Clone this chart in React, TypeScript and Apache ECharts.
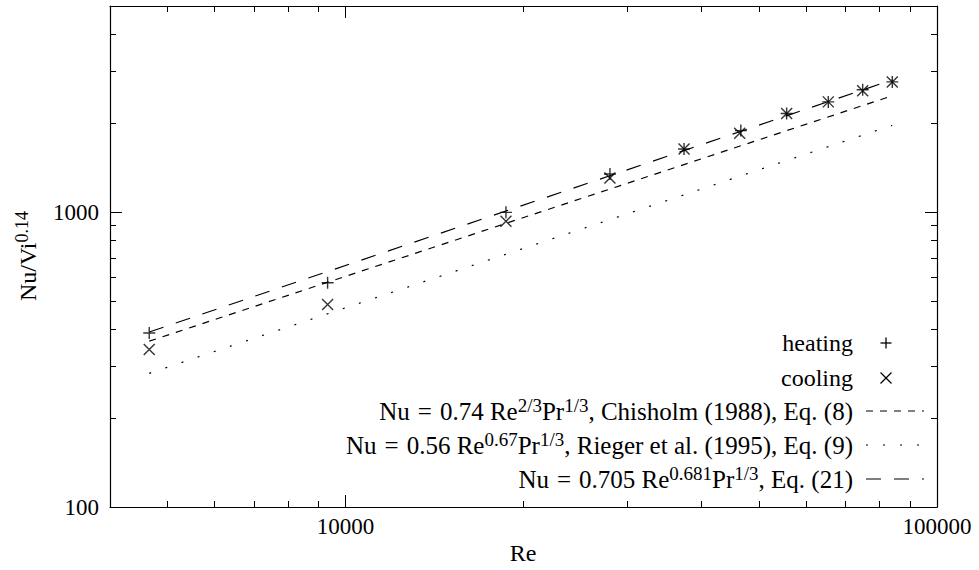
import React, { useEffect, useRef } from 'react';
import * as echarts from 'echarts';

// ---- data ----
const heatingRe = [4660, 9330, 18680, 28000, 37360, 46600, 55700, 65500, 74880, 84030];
const heatingNu = [389, 576, 998, 1347, 1636, 1890, 2160, 2365, 2600, 2764];
const coolingRe = [4660, 9330, 18680, 28000, 37360, 46400, 55700, 65500, 74880, 84030];
const coolingNu = [342, 486, 931, 1306, 1636, 1850, 2160, 2365, 2580, 2764];

const lineRe = [4660, 84000];
const chisholmNu = [365, 2480];
const riegerNu = [284, 1969];
const eq21Nu = [392, 2808];

const xMajorTicks = [10000, 100000];
const xMinorTicks = [5000, 6000, 7000, 8000, 9000, 20000, 30000, 40000, 50000, 60000, 70000, 80000, 90000];
const yMajorTicks = [100, 1000];
const yMinorTicks = [200, 300, 400, 500, 600, 700, 800, 900, 2000, 3000, 4000];

const legendTexts = [
  'heating',
  'cooling',
  '{n|Nu}{e|=}{n|0.74 Re}{s|2/3}{n|Pr}{s|1/3}{n|, Chisholm (1988), Eq. (8)}',
  '{n|Nu}{e|=}{n|0.56 Re}{s|0.67}{n|Pr}{s|1/3}{n|, Rieger et al. (1995), Eq. (9)}',
  '{n|Nu}{e|=}{n|0.705 Re}{s|0.681}{n|Pr}{s|1/3}{n|, Eq. (21)}',
];
const xTitle = 'Re';
const yTitle = '{n|Nu/Vi}{s|0.14}';

const FONT = 'Liberation Serif';
const FS_TICK = 23;
const FS = 24;
const SUP = 18;
const rich = {
  n: { fontSize: FS, fontFamily: FONT, fill: '#000' },
  s: { fontSize: SUP, fontFamily: FONT, fill: '#000', padding: [0, 0, 12, 0] },
};
const richF = {
  n: { fontSize: 25, fontFamily: FONT, fill: '#000' },
  e: { fontSize: 25, fontFamily: FONT, fill: '#000', padding: [0, 8, 0, 8] },
  s: { fontSize: 19, fontFamily: FONT, fill: '#000', padding: [0, 0, 12, 0] },
};

const X_MIN = 4000, X_MAX = 100000, Y_MIN = 100, Y_MAX = 5000;

function xAxisDef(position: string, ticks: number[], len: number, showLine: boolean, labels: boolean) {
  return {
    type: 'log', logBase: 10, min: X_MIN, max: X_MAX, position, gridIndex: 0,
    axisLine: { show: showLine, onZero: false, lineStyle: { color: '#000', width: 1.2 } },
    axisTick: { show: true, inside: true, length: len, customValues: ticks, lineStyle: { color: '#000', width: 1 } },
    axisLabel: labels
      ? { show: true, customValues: xMajorTicks, margin: 8, fontSize: FS_TICK, fontFamily: FONT, color: '#000',
          formatter: (v: number) => String(Math.round(v)) }
      : { show: false },
    splitLine: { show: false },
    minorTick: { show: false },
  };
}
function yAxisDef(position: string, ticks: number[], len: number, showLine: boolean, labels: boolean) {
  return {
    type: 'log', logBase: 10, min: Y_MIN, max: Y_MAX, position, gridIndex: 0,
    axisLine: { show: showLine, onZero: false, lineStyle: { color: '#000', width: 1.2 } },
    axisTick: { show: true, inside: true, length: len, customValues: ticks, lineStyle: { color: '#000', width: 1 } },
    axisLabel: labels
      ? { show: true, customValues: yMajorTicks, margin: 11, fontSize: FS_TICK, fontFamily: FONT, color: '#000',
          formatter: (v: number) => String(Math.round(v)) }
      : { show: false },
    splitLine: { show: false },
    minorTick: { show: false },
  };
}

const LEG_TEXT_X = 853;
const LEG_Y = [343, 378, 411, 445, 479];
const SAMPLE_X0 = 866, SAMPLE_X1 = 924;
const MARK_X = 886;

export default function App() {
  const ref = useRef<HTMLDivElement>(null);
  useEffect(() => {
    if (!ref.current) return;
    const chart = echarts.init(ref.current, undefined, { renderer: 'svg' });
    const zip = (a: number[], b: number[]) => a.map((v, i) => [v, b[i]]);
    const lineStyleBase = { color: '#000', width: 1.2 };

    const graphic: any[] = [
      { type: 'text', x: 523, y: 553, style: { text: xTitle, fontSize: FS, fontFamily: FONT, fill: '#000', align: 'center', verticalAlign: 'middle' } },
      { type: 'text', x: 28, y: 256, rotation: Math.PI / 2,
        style: { text: yTitle, rich, align: 'center', verticalAlign: 'middle' } },
    ];
    legendTexts.forEach((t, i) => {
      graphic.push({
        type: 'text', x: LEG_TEXT_X, y: LEG_Y[i],
        style: i < 2
          ? { text: t, fontSize: FS, fontFamily: FONT, fill: '#000', align: 'right', verticalAlign: 'middle' }
          : { text: t, rich: richF, align: 'right', verticalAlign: 'middle' },
      });
    });
    const s = 5.5;
    const ms = { stroke: '#000', lineWidth: 1.3 };
    graphic.push({ type: 'line', shape: { x1: MARK_X - s, y1: LEG_Y[0], x2: MARK_X + s, y2: LEG_Y[0] }, style: ms });
    graphic.push({ type: 'line', shape: { x1: MARK_X, y1: LEG_Y[0] - s, x2: MARK_X, y2: LEG_Y[0] + s }, style: ms });
    graphic.push({ type: 'line', shape: { x1: MARK_X - s, y1: LEG_Y[1] - s, x2: MARK_X + s, y2: LEG_Y[1] + s }, style: ms });
    graphic.push({ type: 'line', shape: { x1: MARK_X - s, y1: LEG_Y[1] + s, x2: MARK_X + s, y2: LEG_Y[1] - s }, style: ms });
    const dashes = [[7, 7], [2, 15], [15, 13]];
    dashes.forEach((d, i) => {
      graphic.push({ type: 'line', shape: { x1: SAMPLE_X0, y1: LEG_Y[i + 2], x2: SAMPLE_X1, y2: LEG_Y[i + 2] },
        style: { stroke: '#000', lineWidth: 1.2, lineDash: d } });
    });

    chart.setOption({
      animation: false,
      backgroundColor: '#fff',
      grid: { left: 110, right: 42, top: 6, bottom: 63, containLabel: false },
      xAxis: [
        xAxisDef('bottom', xMajorTicks, 12, true, true),
        xAxisDef('bottom', xMinorTicks, 6, false, false),
        xAxisDef('top', xMajorTicks, 12, true, false),
        xAxisDef('top', xMinorTicks, 6, false, false),
      ],
      yAxis: [
        yAxisDef('left', yMajorTicks, 12, true, true),
        yAxisDef('left', yMinorTicks, 6, false, false),
        yAxisDef('right', yMajorTicks, 12, true, false),
        yAxisDef('right', yMinorTicks, 6, false, false),
      ],
      series: [
        { type: 'line', name: 'Chisholm', data: zip(lineRe, chisholmNu), showSymbol: false, symbol: 'none',
          lineStyle: { ...lineStyleBase, type: dashes[0] }, xAxisIndex: 0, yAxisIndex: 0 },
        { type: 'line', name: 'Rieger', data: zip(lineRe, riegerNu), showSymbol: false, symbol: 'none',
          lineStyle: { ...lineStyleBase, type: dashes[1] }, xAxisIndex: 0, yAxisIndex: 0 },
        { type: 'line', name: 'Eq21', data: zip(lineRe, eq21Nu), showSymbol: false, symbol: 'none',
          lineStyle: { ...lineStyleBase, type: dashes[2] }, xAxisIndex: 0, yAxisIndex: 0 },
        { type: 'scatter', name: 'heating', data: zip(heatingRe, heatingNu),
          symbol: 'path://M5,0L5,10M0,5L10,5', symbolSize: 12,
          itemStyle: { color: '#000', borderColor: '#000', borderWidth: 1.4 }, xAxisIndex: 0, yAxisIndex: 0 },
        { type: 'scatter', name: 'cooling', data: zip(coolingRe, coolingNu),
          symbol: 'path://M0,0L10,10M0,10L10,0', symbolSize: 11,
          itemStyle: { color: '#000', borderColor: '#000', borderWidth: 1.4 }, xAxisIndex: 0, yAxisIndex: 0 },
      ],
      graphic,
    });
    return () => chart.dispose();
  }, []);
  return <div ref={ref} style={{ position: 'fixed', left: 0, top: 0, width: 979, height: 570, background: '#fff' }} />;
}
